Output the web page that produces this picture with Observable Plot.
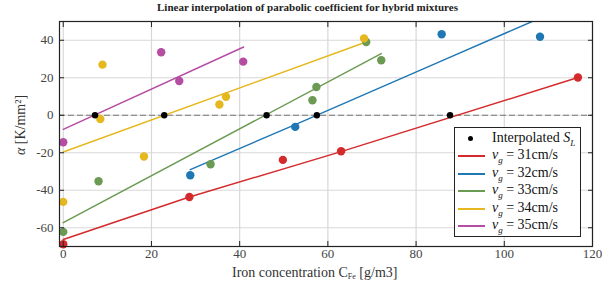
<!DOCTYPE html>
<html>
<head>
<meta charset="utf-8">
<script src="https://cdn.jsdelivr.net/npm/d3@7"></script>
<script src="https://cdn.jsdelivr.net/npm/@observablehq/plot@0.6"></script>
<style>
  body { margin: 0; background: #fff; }
  #wrap { position: relative; width: 615px; height: 293px; font-family: "Liberation Serif", "DejaVu Serif", serif; }
  #title { position: absolute; left: 0; top: 1px; width: 615px; text-align: center; font-weight: bold; font-size: 11px; color: #222; }
  #xlabel { position: absolute; left: 232px; top: 265px; font-size: 14px; color: #333; white-space: nowrap; }
  #ylabel { position: absolute; left: 21px; top: 125px; font-size: 14px; color: #333; white-space: nowrap; transform: translate(-50%, -50%) rotate(-90deg); }
  #legend { position: absolute; left: 454px; top: 127px; width: 127px; height: 110px; border: 1.3px solid #222; background: #fff; font-size: 14px; color: #111; padding-top: 3px; box-sizing: border-box; }
  .row { position: relative; height: 17.4px; line-height: 14px; white-space: nowrap; }
  .sym { position: absolute; left: 3px; top: 7px; width: 27px; height: 2px; }
  .dot { position: absolute; left: 13px; top: 5px; width: 5px; height: 5px; border-radius: 50%; background: #000; }
  .txt { position: absolute; left: 37px; top: 0px; }
  sub { font-size: 9px; font-style: italic; position: relative; top: 4px; vertical-align: baseline; }
  sub.fe { font-style: normal; font-size: 8px; top: 2px; }
</style>
</head>
<body>
<div id="wrap">
  <div id="title"></div>
  <div id="chart"></div>
  <div id="xlabel">Iron concentration C<sub class="fe">Fe</sub> [g/m3]</div>
  <div id="ylabel"><i>α</i> [K/mm²]</div>
  <div id="legend"></div>
</div>
<script>
const titleText = "Linear interpolation of parabolic coefficient for hybrid mixtures";
const seriesNames = ["31", "32", "33", "34", "35"];
const seriesColors = ["#d42a2c", "#1f77b4", "#6b9a52", "#e6b820", "#b54da2"];

// measured points
const pts31x = [0, 28.6, 49.8, 63, 116.7];
const pts31y = [-68.8, -43.6, -23.8, -19.2, 20.1];
const pts32x = [28.8, 52.6, 85.8, 108.1];
const pts32y = [-32, -6.2, 43.2, 41.9];
const pts33x = [0, 8, 33.4, 56.5, 57.4, 68.7, 72.1];
const pts33y = [-62.2, -35.2, -26.1, 8, 15.1, 39.1, 29.3];
const pts34x = [0, 8.4, 8.9, 18.3, 35.4, 36.9, 68.2];
const pts34y = [-46.2, -2, 27, -22, 5.7, 9.9, 41];
const pts35x = [0, 22.2, 26.3, 40.8];
const pts35y = [-14.4, 33.6, 18.3, 28.6];

// interpolation lines
const line31x = [0, 28.6, 63, 116.7];
const line31y = [-66.3, -43.6, -19.4, 20.1];
const line32x = [28.8, 52.6, 85.8, 108.1];
const line32y = [-29, -5, 29, 51.8];
const line33x = [0, 72.1];
const line33y = [-57.3, 32.9];
const line34x = [0, 68.2];
const line34y = [-19.6, 38.7];
const line35x = [0, 40.9];
const line35y = [-7.5, 36.4];

// interpolated S_L (zero crossings)
const interpX = [87.7, 57.5, 46.1, 22.9, 7.2];
const interpY = [0, 0, 0, 0, 0];

const xTicks = [0, 20, 40, 60, 80, 100, 120];
const yTicks = [-60, -40, -20, 0, 20, 40];

const ptsX = [pts31x, pts32x, pts33x, pts34x, pts35x];
const ptsY = [pts31y, pts32y, pts33y, pts34y, pts35y];
const lnX = [line31x, line32x, line33x, line34x, line35x];
const lnY = [line31y, line32y, line33y, line34y, line35y];

const points = [], lines = [];
seriesNames.forEach((s, i) => {
  ptsX[i].forEach((x, j) => points.push({s, x, y: ptsY[i][j]}));
  lnX[i].forEach((x, j) => lines.push({s, x, y: lnY[i][j]}));
});
const interp = interpX.map((x, i) => ({x, y: interpY[i]}));

const color = {domain: seriesNames, range: seriesColors};
const serif = '"Liberation Serif", serif';

const chart = Plot.plot({
  width: 615,
  height: 293,
  marginTop: 21,
  marginBottom: 47,
  marginLeft: 59,
  marginRight: 23,
  style: {fontFamily: serif, fontSize: "13px", color: "#444", background: "transparent"},
  x: {domain: [-0.85, 120]},
  y: {domain: [-70, 50]},
  color,
  marks: [
    Plot.gridX(xTicks, {stroke: "#d8d8d8", strokeOpacity: 1, strokeWidth: 1.2}),
    Plot.gridY(yTicks, {stroke: "#d8d8d8", strokeOpacity: 1, strokeWidth: 1.2}),
    Plot.ruleY([0], {stroke: "#777", strokeDasharray: "6,3", strokeWidth: 1}),
    Plot.line(lines, {x: "x", y: "y", z: "s", stroke: d => d.s, strokeWidth: 1.5, clip: true}),
    Plot.dot(points, {x: "x", y: "y", fill: d => d.s, r: 4.2, stroke: null}),
    Plot.dot(interp, {x: "x", y: "y", fill: "#000", r: 3.2}),
    Plot.axisX({anchor: "bottom", ticks: xTicks, tickSize: -5, tickPadding: 7, label: null, stroke: "#222", fontSize: 13, fontFamily: serif, fontVariant: "normal"}),
    Plot.axisX({anchor: "top", ticks: xTicks, tickSize: -5, tickFormat: () => "", label: null, stroke: "#222"}),
    Plot.axisY({anchor: "left", ticks: yTicks, tickSize: -5, tickPadding: 11, label: null, stroke: "#222", fontSize: 13, fontFamily: serif, fontVariant: "normal", tickFormat: d => String(d)}),
    Plot.axisY({anchor: "right", ticks: yTicks, tickSize: -5, tickFormat: () => "", label: null, stroke: "#222"}),
    Plot.frame({stroke: "#222", strokeWidth: 1.2})
  ]
});
chart.querySelectorAll("text").forEach(t => t.style.fontFamily = serif);
document.getElementById("chart").appendChild(chart);
document.getElementById("title").textContent = titleText;

const legend = document.getElementById("legend");
let html = `<div class="row"><span class="dot"></span><span class="txt">Interpolated <i>S</i><sub>L</sub></span></div>`;
seriesNames.forEach((s, i) => {
  html += `<div class="row"><span class="sym" style="background:${seriesColors[i]}"></span><span class="txt"><i>v</i><sub>g</sub> = ${s}cm/s</span></div>`;
});
legend.innerHTML = html;
</script>
</body>
</html>
